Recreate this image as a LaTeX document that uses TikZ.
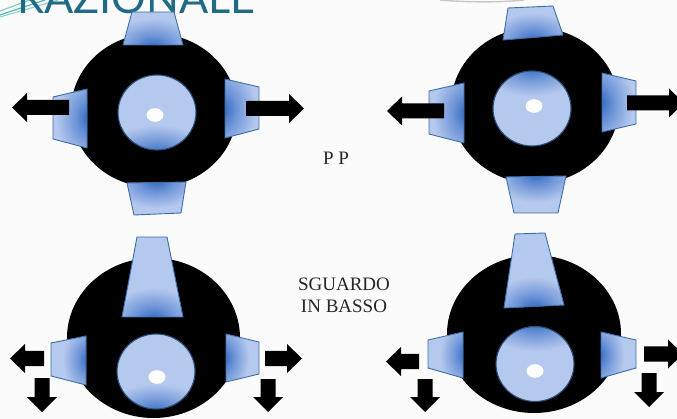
\documentclass[tikz,border=0pt]{standalone}
\usepackage{fontspec}
\setmainfont{Liberation Serif}
\newfontfamily\titlefont{Lato}
\definecolor{paper}{HTML}{FBFBFB}
\definecolor{lensblue}{HTML}{B5C8ED}
\definecolor{glowblue}{HTML}{2F67BF}
\definecolor{midblue}{HTML}{6F96D8}
\definecolor{edgeblue}{HTML}{3C6FA8}
\definecolor{titleteal}{HTML}{1F6A85}
\definecolor{rayteal}{HTML}{45B5B5}
\pgfdeclareradialshading{bluecore}{\pgfpointorigin}{%
  color(0bp)=(glowblue); color(11bp)=(midblue); color(25bp)=(lensblue); color(50bp)=(lensblue)}
\tikzset{
  eyeball/.style={fill=black},
  bodyfill/.style={fill=lensblue},
  rim/.style={draw=edgeblue,line width=0.9pt,line join=miter},
  irisrim/.style={draw=edgeblue!70!black,line width=1.1pt},
  pupil/.style={fill=white},
  arrowfill/.style={fill=black},
  rayline/.style={draw=rayteal,line width=1.1pt},
  caption/.style={font=\fontsize{19}{22}\selectfont,text=black!85,align=center,inner sep=0pt}
}
% #1 polygon, #2 centre of the blue glow, #3 and #4 its radii
\newcommand{\musclepad}[4]{%
  \fill[bodyfill] #1 -- cycle;
  \begin{scope}
    \clip #1 -- cycle;
    \shade[shading=bluecore] (#2) ellipse[x radius=#3pt,y radius=#4pt];
  \end{scope}
  \draw[rim] #1 -- cycle;}
% #1 centre of the disc, #2 centre of the glow, #3 centre of the pupil
\newcommand{\irisdisc}[3]{%
  \fill[bodyfill] (#1) ellipse[x radius=39pt,y radius=37.5pt];
  \begin{scope}
    \clip (#1) ellipse[x radius=39pt,y radius=37.5pt];
    \shade[shading=bluecore] (#2) ellipse[x radius=52pt,y radius=30pt];
  \end{scope}
  \draw[irisrim] (#1) ellipse[x radius=39pt,y radius=37.5pt];
  \fill[pupil] (#3) ellipse[x radius=8.5pt,y radius=6.8pt];}
% horizontal arrow: tail x, head-base x, tip x, centre y
\newcommand{\sidearrow}[4]{%
  \fill[arrowfill] (#1,#4-7.5) -- (#2,#4-7.5) -- (#2,#4-14.5) -- (#3,#4)
    -- (#2,#4+14.5) -- (#2,#4+7.5) -- (#1,#4+7.5) -- cycle;}
% vertical arrow: centre x, tail y, head-base y, tip y
\newcommand{\droparrow}[4]{%
  \fill[arrowfill] (#1-7.5,#2) -- (#1-7.5,#3) -- (#1-15,#3) -- (#1,#4)
    -- (#1+15,#3) -- (#1+7.5,#3) -- (#1+7.5,#2) -- cycle;}
\begin{document}
\begin{tikzpicture}[x=1pt,y=-1pt]
\useasboundingbox (0,0) rectangle (677,419);
\clip (0,0) rectangle (677,419);
\fill[paper] (0,0) rectangle (677,419);

% slide header and its ornaments, cut off by the top edge
\draw[rayline] (0,15) -- (45,0);
\draw[rayline,draw opacity=0.7] (0,11) -- (30,0);
\draw[rayline,draw opacity=0.6] (0,17) -- (58,0);
\node[anchor=base west,inner sep=0pt,text=titleteal] (header) at (17,14)
  {\titlefont\fontsize{43.2}{43}\selectfont RAZIONALE};
\draw[black!22,line width=1.4pt] (440,0) .. controls (470,2.5) and (500,2.5) .. (524,0);

% upper left eye
\fill[eyeball] (154,110.5) ellipse[x radius=83pt,y radius=77pt];
\musclepad{(132,12) -- (174,12) -- (183,45) -- (123,45)}{153,48}{44}{30}
\musclepad{(53,97) -- (87,89) -- (87,148) -- (53,139)}{90,118}{34}{46}
\musclepad{(225,79) -- (259,87) -- (259,129) -- (225,138)}{222,109}{34}{46}
\musclepad{(127,183) -- (186,182) -- (181,213) -- (134,215)}{156,180}{44}{28}
\irisdisc{157,112.5}{157,155}{155,115}
\sidearrow{69}{27}{12}{107.5}
\sidearrow{246}{289}{304}{108.5}

% upper right eye
\fill[eyeball] (535,105.5) ellipse[x radius=84pt,y radius=78pt];
\musclepad{(508,8) -- (553,6) -- (563,35) -- (503,40)}{533,41}{44}{28}
\musclepad{(429,91) -- (464,83) -- (464,143) -- (429,134)}{467,113}{34}{46}
\musclepad{(602,73) -- (636,81) -- (636,124) -- (602,132)}{599,103}{34}{46}
\musclepad{(506,177) -- (566,176) -- (558,213) -- (514,213)}{536,174}{44}{28}
\irisdisc{532,108.5}{532,66}{534,106}
\sidearrow{444}{402}{387}{111}
\sidearrow{627}{669}{684}{103}

% lower left eye
\fill[eyeball] (153.5,338) ellipse[x radius=86.5pt,y radius=80pt];
\musclepad{(137,237) -- (167,237) -- (183,317) -- (122,317)}{153,320}{44}{32}
\musclepad{(51,343) -- (86,336) -- (86,385) -- (51,376)}{89,360}{26}{36}
\musclepad{(226,334) -- (259,342) -- (259,374) -- (226,382)}{223,358}{26}{36}
\irisdisc{156,371.5}{156,414}{157,377}
\sidearrow{44}{25}{10}{358.5}
\sidearrow{265}{287}{302}{358.5}
\droparrow{42}{378}{397}{412}
\droparrow{268}{379}{397}{412}

% lower right eye
\fill[eyeball] (534,334) ellipse[x radius=87pt,y radius=79pt];
\musclepad{(515,234) -- (545,233) -- (564,305) -- (504,308)}{534,309}{44}{32}
\musclepad{(428,340) -- (463,332) -- (463,378) -- (428,368)}{466,355}{26}{36}
\musclepad{(601,332) -- (636,340) -- (636,368) -- (601,378)}{598,355}{26}{36}
\irisdisc{535,364}{535,321}{535,371}
\sidearrow{419}{401}{386}{361.5}
\sidearrow{644}{668}{683}{354}
\droparrow{425}{379}{397}{412}
\droparrow{649}{373}{392}{407}

% captions
\node[caption] (level) at (336,158) {P P};
\node[caption] (down) at (344,295) {SGUARDO\\IN BASSO};
\end{tikzpicture}
\end{document}
